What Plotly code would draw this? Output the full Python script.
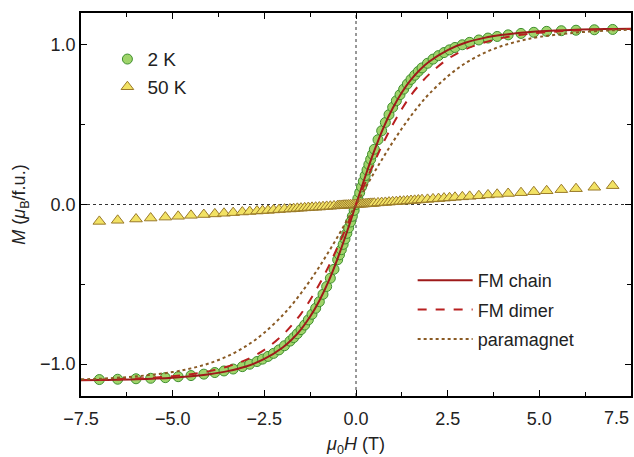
import plotly.graph_objects as go

# ---- data: 2 K measurement ----
H_2K = [-7.0, -6.5, -6.0, -5.6, -5.2, -4.85, -4.5, -4.15, -3.85, -3.6, -3.35, -3.1, -2.9, -2.7, -2.55,
        -2.4, -2.25, -2.1, -1.95, -1.8, -1.7, -1.6, -1.5, -1.4, -1.3, -1.2, -1.1, -1.0, -0.9, -0.8,
        -0.7, -0.6, -0.5, -0.45, -0.4, -0.35, -0.3, -0.25, -0.2, -0.15, -0.1, -0.05, 0.0,
        0.05, 0.1, 0.15, 0.2, 0.25, 0.3, 0.35, 0.4, 0.45, 0.5, 0.6, 0.7, 0.8, 0.9, 1.0, 1.1, 1.2,
        1.3, 1.4, 1.5, 1.6, 1.7, 1.8, 1.95, 2.1, 2.25, 2.4, 2.55, 2.7, 2.9, 3.1, 3.35, 3.6, 3.85,
        4.15, 4.5, 4.85, 5.2, 5.6, 6.0, 6.5, 7.0]
M_2K = [-1.097, -1.095, -1.092, -1.089, -1.085, -1.079, -1.072, -1.063, -1.053, -1.043, -1.031, -1.016,
        -1.001, -0.984, -0.969, -0.952, -0.933, -0.911, -0.885, -0.856, -0.834, -0.810, -0.784, -0.755,
        -0.723, -0.688, -0.650, -0.609, -0.563, -0.514, -0.462, -0.406, -0.346, -0.315, -0.283, -0.250,
        -0.216, -0.181, -0.146, -0.110, -0.074, -0.037, 0.0,
        0.037, 0.074, 0.110, 0.146, 0.181, 0.216, 0.250, 0.283, 0.315, 0.346, 0.406, 0.462, 0.514,
        0.563, 0.609, 0.650, 0.688, 0.723, 0.755, 0.784, 0.810, 0.834, 0.856, 0.885, 0.911, 0.933,
        0.952, 0.969, 0.984, 1.001, 1.016, 1.031, 1.043, 1.053, 1.063, 1.072, 1.079, 1.085, 1.089,
        1.092, 1.095, 1.097]

# ---- data: 50 K measurement ----
H_50K = H_2K
M_50K = [-0.106, -0.099, -0.091, -0.085, -0.079, -0.074, -0.068, -0.063, -0.059, -0.055, -0.051, -0.047,
         -0.044, -0.041, -0.039, -0.037, -0.034, -0.032, -0.029, -0.028, -0.026, -0.024, -0.023, -0.021,
         -0.019, -0.018, -0.017, -0.016, -0.014, -0.012, -0.011, -0.009, -0.007, -0.006, -0.006, -0.005,
         -0.004, -0.004, -0.003, -0.002, -0.002, -0.001, 0.0,
         0.001, 0.002, 0.002, 0.003, 0.004, 0.005, 0.006, 0.007, 0.007, 0.008, 0.010, 0.012, 0.013,
         0.015, 0.017, 0.018, 0.020, 0.021, 0.023, 0.025, 0.026, 0.028, 0.030, 0.032, 0.035, 0.037,
         0.040, 0.042, 0.045, 0.048, 0.051, 0.055, 0.060, 0.064, 0.069, 0.074, 0.080, 0.086, 0.093,
         0.099, 0.108, 0.118]

# ---- model curves ----
H_fit = [-7.5, -7.0, -6.0, -5.0, -4.5, -4.0, -3.5, -3.0, -2.5, -2.0, -1.75, -1.5, -1.25, -1.0, -0.75,
         -0.5, -0.25, 0.0, 0.25, 0.5, 0.75, 1.0, 1.25, 1.5, 1.75, 2.0, 2.5, 3.0, 3.5, 4.0, 4.5, 5.0,
         6.0, 7.0, 7.5]
M_chain = [-1.102, -1.100, -1.095, -1.085, -1.076, -1.063, -1.044, -1.015, -0.968, -0.896, -0.846,
           -0.782, -0.702, -0.603, -0.482, -0.337, -0.174, 0.0, 0.174, 0.337, 0.482, 0.603, 0.702,
           0.782, 0.846, 0.896, 0.968, 1.015, 1.044, 1.063, 1.076, 1.085, 1.095, 1.100, 1.102]
M_dimer = [-1.100, -1.098, -1.091, -1.076, -1.063, -1.044, -1.015, -0.974, -0.911, -0.817, -0.756,
           -0.685, -0.598, -0.500, -0.389, -0.266, -0.135, 0.0, 0.135, 0.266, 0.389, 0.500, 0.598,
           0.685, 0.756, 0.817, 0.911, 0.974, 1.015, 1.044, 1.063, 1.076, 1.091, 1.098, 1.100]
M_para = [-1.095, -1.092, -1.077, -1.050, -1.027, -0.995, -0.950, -0.888, -0.803, -0.694, -0.629,
          -0.556, -0.476, -0.390, -0.298, -0.202, -0.101, 0.0, 0.101, 0.202, 0.298, 0.390, 0.476,
          0.556, 0.629, 0.694, 0.803, 0.888, 0.950, 0.995, 1.027, 1.050, 1.077, 1.092, 1.095]

x_ticks = [-7.5, -5.0, -2.5, 0.0, 2.5, 5.0, 7.5]
x_ticklabels = ["\u22127.5", "\u22125.0", "\u22122.5", "0.0", "2.5", "5.0", ""]
x_last_label = "7.5"
y_ticks = [-1.0, 0.0, 1.0]
y_ticklabels = ["\u22121.0", "0.0", "1.0"]

FONT = "Liberation Sans, Arial, sans-serif"
TXT = "#222222"

fig = go.Figure()

fig.add_trace(go.Scatter(
    x=H_2K, y=M_2K, mode="markers", name="2 K", legend="legend", legendgroup="a",
    marker=dict(symbol="circle", size=10, color="#9fd46a",
                line=dict(color="#3f8f2f", width=1))))
fig.add_trace(go.Scatter(
    x=H_50K, y=M_50K, mode="markers", name="50 K", legend="legend", legendgroup="b",
    marker=dict(symbol="triangle-up", size=11, color="#f2e264",
                line=dict(color="#9a7a2a", width=1))))
fig.add_trace(go.Scatter(
    x=H_fit, y=M_chain, mode="lines", name="FM chain", legend="legend2", legendgroup="c",
    line_shape="spline", line=dict(color="#9e1a1a", width=2)))
fig.add_trace(go.Scatter(
    x=H_fit, y=M_dimer, mode="lines", name="FM dimer", legend="legend2", legendgroup="d",
    line_shape="spline", line=dict(color="#b82020", width=2, dash="dash")))
fig.add_trace(go.Scatter(
    x=H_fit, y=M_para, mode="lines", name="paramagnet", legend="legend2", legendgroup="e",
    line_shape="spline", line=dict(color="#8a5a24", width=2, dash="dot")))

fig.add_hline(y=0, line=dict(color="#333333", width=1, dash="dot"), layer="below")
fig.add_vline(x=0, line=dict(color="#333333", width=1, dash="dot"), layer="below")

axis_common = dict(
    showline=True, linecolor="black", linewidth=1.5, mirror="ticks",
    ticks="inside", ticklen=6, tickwidth=1.2, tickcolor="black",
    showgrid=False, zeroline=False,
    tickfont=dict(family=FONT, size=18, color=TXT),
)

fig.update_xaxes(
    range=[-7.5, 7.5], tickvals=x_ticks, ticktext=x_ticklabels, ticklabelstandoff=6,
    minor=dict(dtick=1.25, tick0=0, ticks="inside", ticklen=4, tickcolor="black"),
    title=dict(text="<i>\u03bc</i><sub>0</sub><i>H</i> (T)", font=dict(family=FONT, size=18, color=TXT),
               standoff=14),
    **axis_common)
fig.update_yaxes(
    range=[-1.2, 1.2], tickvals=y_ticks, ticktext=y_ticklabels,
    minor=dict(dtick=0.5, tick0=0, ticks="inside", ticklen=4, tickcolor="black"),
    title=dict(text="<i>M</i> (<i>\u03bc</i><sub>B</sub>/f.u.)", font=dict(family=FONT, size=18, color=TXT),
               standoff=10),
    **axis_common)

# last x tick label, pulled inside the page so it is not cut at the right edge
fig.add_annotation(x=1.0, xref="paper", y=-0.027, yref="paper", yanchor="top", xanchor="right",
                   text=x_last_label, showarrow=False,
                   font=dict(family=FONT, size=18, color=TXT))

fig.update_layout(
    width=634, height=457,
    margin=dict(l=81, r=1, t=13, b=57),
    paper_bgcolor="white", plot_bgcolor="white",
    font=dict(family=FONT, size=18, color=TXT),
    showlegend=True,
    legend=dict(x=0.048, y=0.929, xanchor="left", yanchor="top", bgcolor="rgba(0,0,0,0)",
                font=dict(family=FONT, size=19, color=TXT), tracegroupgap=0, itemwidth=30),
    legend2=dict(x=0.603, y=0.35, xanchor="left", yanchor="top", bgcolor="rgba(0,0,0,0)",
                 font=dict(family=FONT, size=18, color=TXT), tracegroupgap=3, itemwidth=55),
)

fig.write_html("out.html", config={"displayModeBar": False},
               post_script="document.body.style.margin='0';document.body.style.overflow='hidden';")
